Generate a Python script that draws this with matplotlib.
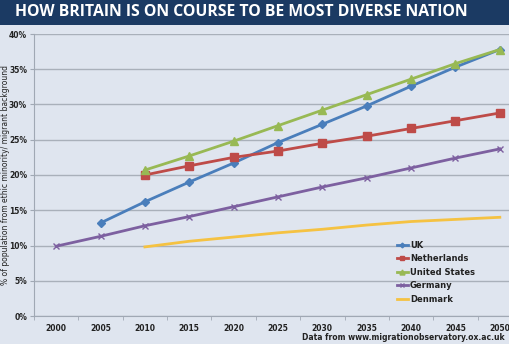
import numpy as np
import matplotlib.pyplot as plt
from matplotlib.patches import Rectangle

# data (% of population)
years = ['2000', '2005', '2010', '2015', '2020', '2025', '2030', '2035', '2040', '2045', '2050']
uk = [None, 13.2, 16.2, 19.0, 21.7, 24.6, 27.2, 29.8, 32.6, 35.3, 37.8]
netherlands = [None, None, 20.0, 21.3, 22.5, 23.4, 24.5, 25.5, 26.6, 27.7, 28.8]
united_states = [None, None, 20.7, 22.7, 24.8, 27.0, 29.2, 31.4, 33.6, 35.8, 37.8]
germany = [9.9, 11.3, 12.8, 14.1, 15.5, 16.9, 18.3, 19.6, 21.0, 22.4, 23.7]
denmark = [None, None, 9.8, 10.6, 11.2, 11.8, 12.3, 12.9, 13.4, 13.7, 14.0]

bg = '#dfe5ef'
fig = plt.figure(figsize=(5.1, 3.44), dpi=100, facecolor=bg)

# title bar
fig.patches.append(Rectangle((0, 1 - 25 / 344), 1, 25 / 344, transform=fig.transFigure,
                             facecolor='#1b3a63', edgecolor='none', zorder=0))
fig.text(0.03, 1 - 12.5 / 344, 'HOW BRITAIN IS ON COURSE TO BE MOST DIVERSE NATION',
         color='white', fontsize=11.3, fontweight='bold', family='Open Sans',
         va='center', ha='left')

ax = fig.add_axes([34 / 510, 28 / 344, 488 / 510, 282 / 344])
ax.set_facecolor(bg)

x = np.arange(len(years))


def series(vals):
    xs = [i for i, v in enumerate(vals) if v is not None]
    ys = [v for v in vals if v is not None]
    return xs, ys


styles = [
    ('UK', uk, '#4a7ebb', 'D', 4),
    ('Netherlands', netherlands, '#be4b48', 's', 6),
    ('United States', united_states, '#98b954', '^', 6),
    ('Germany', germany, '#7d60a0', 'x', 5),
    ('Denmark', denmark, '#f5c242', None, 0),
]
for name, vals, col, mk, ms in styles:
    xs, ys = series(vals)
    ax.plot(xs, ys, color=col, lw=2.0, marker=mk, markersize=ms, label=name,
            markeredgewidth=1)

ax.set_xlim(-0.5, 10.5)
ax.set_ylim(0, 40)
ax.set_yticks(np.arange(0, 41, 5))
ax.set_yticklabels([f'{v}%' for v in range(0, 41, 5)])
ax.set_xticks(x)
ax.set_xticklabels(years)
ax.set_xticks(np.arange(-0.5, 10.6, 1), minor=True)
ax.tick_params(axis='x', which='major', length=0, labelsize=5.5, pad=6)
ax.tick_params(axis='x', which='minor', length=3, color='#a0a8b4')
ax.tick_params(axis='y', length=3, color='#a0a8b4', labelsize=5.5, pad=2)
for lab in ax.get_xticklabels() + ax.get_yticklabels():
    lab.set_fontweight('bold')
    lab.set_color('#222222')
ax.grid(axis='y', color='#a9b0ba', lw=1)
ax.set_axisbelow(True)
for s in ['top', 'right']:
    ax.spines[s].set_visible(False)
ax.spines['left'].set_color('#a0a8b4')
ax.spines['bottom'].set_color('#a0a8b4')

ax.set_ylabel('% of population from ethic minority/ migrant background', fontsize=5.5,
              color='#222222')
ax.yaxis.set_label_coords(-24 / 488, 0.5)

leg = ax.legend(loc='upper left', bbox_to_anchor=(355 / 488, (316 - 233) / 282), frameon=False,
                fontsize=6, handlelength=1.4, labelspacing=0.55, handletextpad=0.2,
                markerscale=0.6)
for t in leg.get_texts():
    t.set_fontweight('bold')
    t.set_color('#222222')

fig.text(0.99, 1 - 337 / 344, 'Data from www.migrationobservatory.ox.ac.uk', fontsize=5.5,
         fontweight='bold', color='#222222', ha='right', va='center')

fig.savefig('out.png', dpi=100, facecolor=bg)
